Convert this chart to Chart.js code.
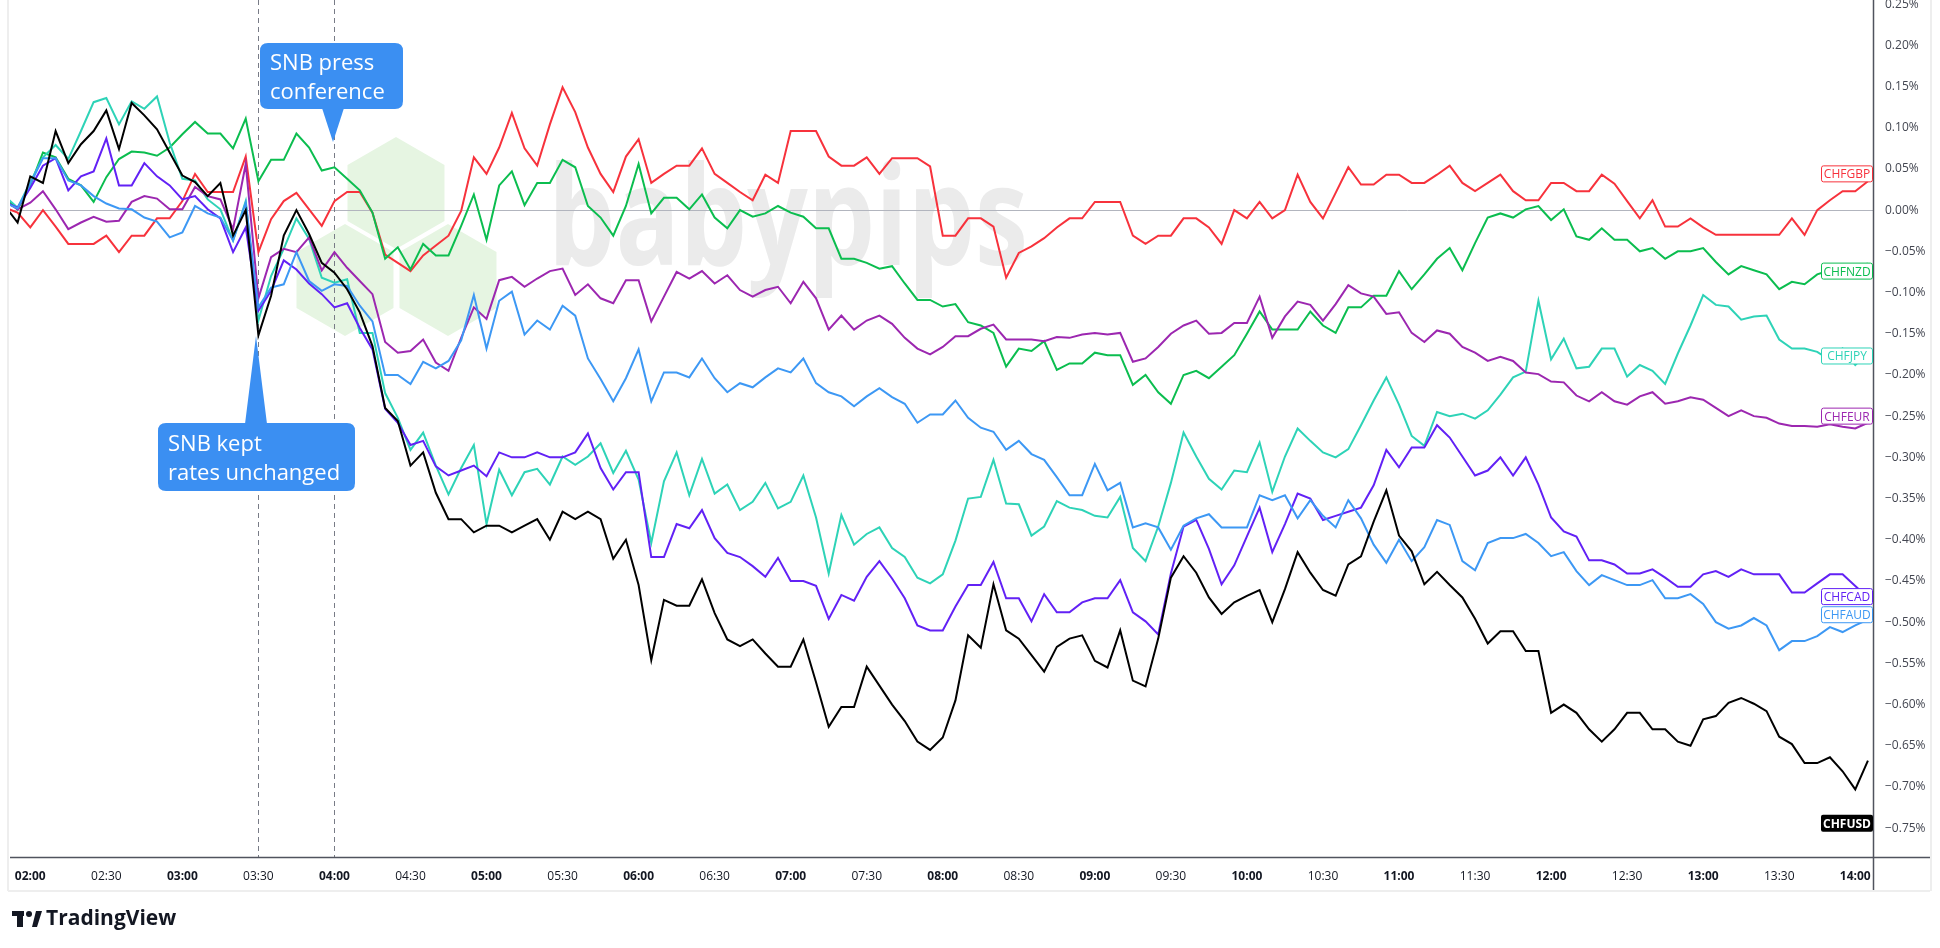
<!DOCTYPE html>
<html><head><meta charset="utf-8">
<script src="https://cdn.jsdelivr.net/npm/chart.js@4.4.0/dist/chart.umd.min.js"></script>
<style>html,body{margin:0;padding:0;background:#fff}#wrap{width:1940px;height:948px;position:relative}</style>
</head><body><div id="wrap"><canvas id="c" width="1940" height="948"></canvas></div>
<script>
// minutes after 02:00, 5-minute steps from 01:50 to 14:05
const times = [];
for (let t = -10; t <= 725; t += 5) times.push(t);
const xTickMinutes = [0,30,60,90,120,150,180,210,240,270,300,330,360,390,420,450,480,510,540,570,600,630,660,690,720];
const yTickValues = [0.25,0.2,0.15,0.1,0.05,0,-0.05,-0.1,-0.15,-0.2,-0.25,-0.3,-0.35,-0.4,-0.45,-0.5,-0.55,-0.6,-0.65,-0.7,-0.75];
const eventMinutes = [90,120];

const CHFUSD = [0.005,-0.015,0.041,0.033,0.096,0.057,0.080,0.096,0.121,0.074,0.130,0.115,0.098,0.070,0.042,0.034,0.017,0.033,-0.031,0.0,-0.152,-0.104,-0.031,0.0,-0.029,-0.064,-0.076,-0.096,-0.124,-0.165,-0.24,-0.256,-0.31,-0.294,-0.343,-0.375,-0.375,-0.391,-0.383,-0.383,-0.391,-0.383,-0.375,-0.40,-0.366,-0.375,-0.366,-0.375,-0.423,-0.40,-0.455,-0.546,-0.473,-0.48,-0.48,-0.448,-0.489,-0.521,-0.529,-0.521,-0.538,-0.554,-0.554,-0.521,-0.573,-0.627,-0.603,-0.603,-0.554,-0.577,-0.6,-0.62,-0.645,-0.655,-0.64,-0.595,-0.516,-0.531,-0.454,-0.51,-0.52,-0.54,-0.56,-0.53,-0.52,-0.516,-0.547,-0.555,-0.51,-0.571,-0.578,-0.52,-0.446,-0.42,-0.44,-0.47,-0.49,-0.476,-0.468,-0.461,-0.50,-0.46,-0.415,-0.44,-0.461,-0.468,-0.43,-0.42,-0.378,-0.34,-0.395,-0.414,-0.454,-0.439,-0.455,-0.47,-0.496,-0.526,-0.511,-0.511,-0.535,-0.535,-0.61,-0.60,-0.61,-0.63,-0.645,-0.63,-0.61,-0.61,-0.63,-0.63,-0.645,-0.65,-0.618,-0.614,-0.598,-0.592,-0.599,-0.608,-0.639,-0.648,-0.671,-0.671,-0.664,-0.681,-0.703,-0.668];
const CHFGBP = [0.003,-0.003,-0.021,0.0,-0.02,-0.041,-0.041,-0.041,-0.031,-0.051,-0.031,-0.031,-0.010,-0.010,0.011,0.044,0.022,0.022,0.022,0.065,-0.051,-0.011,0.011,0.021,0.001,-0.019,0.011,0.022,0.022,-0.003,-0.054,-0.064,-0.074,-0.055,-0.043,-0.031,-0.001,0.064,0.044,0.076,0.118,0.075,0.054,0.104,0.149,0.119,0.076,0.044,0.022,0.065,0.086,0.033,0.044,0.054,0.054,0.075,0.044,0.033,0.022,0.012,0.043,0.033,0.096,0.096,0.096,0.065,0.054,0.054,0.064,0.044,0.063,0.063,0.063,0.053,-0.031,-0.031,-0.01,-0.01,-0.02,-0.082,-0.052,-0.044,-0.034,-0.021,-0.01,-0.01,0.01,0.01,0.01,-0.031,-0.041,-0.031,-0.031,-0.01,-0.01,-0.021,-0.041,0.0,-0.01,0.01,-0.01,0.0,0.043,0.01,-0.01,0.021,0.052,0.031,0.031,0.043,0.043,0.033,0.033,0.043,0.054,0.033,0.023,0.033,0.043,0.023,0.012,0.012,0.033,0.033,0.023,0.023,0.043,0.032,0.011,-0.01,0.012,-0.02,-0.02,-0.01,-0.021,-0.03,-0.03,-0.03,-0.03,-0.03,-0.03,-0.01,-0.03,0.0,0.012,0.023,0.023,0.035];
const CHFNZD = [0.015,0.001,0.03,0.07,0.064,0.038,0.03,0.01,0.04,0.062,0.071,0.070,0.066,0.076,0.092,0.107,0.093,0.093,0.075,0.111,0.035,0.061,0.061,0.093,0.076,0.048,0.052,0.038,0.024,-0.003,-0.059,-0.045,-0.072,-0.041,-0.055,-0.055,-0.019,0.019,-0.036,0.030,0.047,0.006,0.033,0.033,0.061,0.052,0.005,-0.009,-0.031,0.005,0.056,-0.004,0.015,0.015,0.001,0.019,-0.009,-0.022,0.0,-0.008,-0.004,0.005,-0.003,-0.008,-0.022,-0.022,-0.059,-0.059,-0.064,-0.071,-0.068,-0.089,-0.109,-0.109,-0.117,-0.114,-0.136,-0.14,-0.149,-0.19,-0.168,-0.171,-0.159,-0.194,-0.186,-0.186,-0.173,-0.176,-0.176,-0.212,-0.20,-0.221,-0.235,-0.20,-0.195,-0.204,-0.19,-0.176,-0.15,-0.123,-0.145,-0.145,-0.145,-0.123,-0.14,-0.149,-0.118,-0.118,-0.104,-0.104,-0.074,-0.096,-0.078,-0.059,-0.046,-0.073,-0.04,-0.009,-0.004,-0.009,0.001,0.005,-0.012,0.001,-0.032,-0.036,-0.022,-0.036,-0.036,-0.05,-0.046,-0.059,-0.05,-0.05,-0.046,-0.063,-0.078,-0.068,-0.073,-0.078,-0.096,-0.087,-0.09,-0.078,-0.073,-0.073,-0.067,-0.065];
const CHFJPY = [0.017,0.003,0.034,0.064,0.079,0.062,0.096,0.131,0.136,0.104,0.132,0.123,0.138,0.082,0.038,0.036,0.013,0.001,-0.037,0.011,-0.134,-0.080,-0.047,-0.010,-0.035,-0.082,-0.088,-0.084,-0.149,-0.149,-0.222,-0.252,-0.291,-0.27,-0.31,-0.345,-0.313,-0.285,-0.381,-0.315,-0.346,-0.318,-0.314,-0.333,-0.299,-0.309,-0.299,-0.283,-0.319,-0.292,-0.327,-0.404,-0.329,-0.294,-0.346,-0.302,-0.344,-0.333,-0.364,-0.354,-0.331,-0.362,-0.354,-0.322,-0.373,-0.441,-0.37,-0.406,-0.393,-0.385,-0.41,-0.421,-0.446,-0.453,-0.442,-0.401,-0.35,-0.348,-0.303,-0.356,-0.357,-0.395,-0.384,-0.353,-0.361,-0.364,-0.371,-0.373,-0.348,-0.41,-0.426,-0.384,-0.331,-0.27,-0.299,-0.326,-0.339,-0.316,-0.318,-0.282,-0.342,-0.299,-0.265,-0.28,-0.294,-0.30,-0.29,-0.261,-0.231,-0.203,-0.236,-0.274,-0.286,-0.245,-0.25,-0.247,-0.253,-0.243,-0.224,-0.203,-0.196,-0.11,-0.181,-0.156,-0.192,-0.19,-0.168,-0.168,-0.202,-0.188,-0.195,-0.211,-0.174,-0.14,-0.103,-0.115,-0.117,-0.133,-0.129,-0.128,-0.157,-0.168,-0.168,-0.172,-0.182,-0.168,-0.188,-0.173];
const CHFEUR = [0.011,0.001,0.009,0.023,0.001,-0.023,-0.015,-0.008,-0.014,-0.013,0.010,0.017,0.014,0.001,0.001,0.028,0.017,0.013,-0.023,0.056,-0.107,-0.057,-0.047,-0.051,-0.033,-0.073,-0.051,-0.070,-0.086,-0.102,-0.160,-0.173,-0.171,-0.157,-0.185,-0.195,-0.155,-0.118,-0.132,-0.085,-0.081,-0.093,-0.083,-0.074,-0.071,-0.103,-0.090,-0.107,-0.113,-0.085,-0.085,-0.135,-0.105,-0.075,-0.083,-0.074,-0.089,-0.079,-0.097,-0.105,-0.097,-0.093,-0.113,-0.087,-0.107,-0.145,-0.128,-0.145,-0.134,-0.128,-0.138,-0.155,-0.168,-0.175,-0.166,-0.153,-0.153,-0.144,-0.139,-0.157,-0.157,-0.157,-0.159,-0.154,-0.155,-0.151,-0.149,-0.151,-0.149,-0.184,-0.18,-0.166,-0.15,-0.14,-0.134,-0.15,-0.149,-0.137,-0.137,-0.105,-0.155,-0.129,-0.111,-0.115,-0.134,-0.114,-0.091,-0.101,-0.105,-0.126,-0.124,-0.149,-0.16,-0.146,-0.15,-0.166,-0.173,-0.183,-0.178,-0.183,-0.197,-0.199,-0.208,-0.209,-0.225,-0.232,-0.221,-0.232,-0.236,-0.226,-0.221,-0.235,-0.232,-0.227,-0.23,-0.24,-0.25,-0.243,-0.25,-0.252,-0.259,-0.262,-0.262,-0.263,-0.26,-0.263,-0.265,-0.258];
const CHFCAD = [0.009,0.003,0.027,0.054,0.063,0.024,0.041,0.047,0.087,0.030,0.030,0.057,0.041,0.030,0.013,0.017,0.001,-0.010,-0.051,-0.021,-0.122,-0.098,-0.061,-0.072,-0.089,-0.102,-0.118,-0.113,-0.143,-0.169,-0.241,-0.258,-0.285,-0.28,-0.311,-0.322,-0.316,-0.31,-0.323,-0.294,-0.30,-0.30,-0.294,-0.30,-0.30,-0.294,-0.271,-0.313,-0.339,-0.318,-0.318,-0.421,-0.421,-0.381,-0.386,-0.364,-0.398,-0.416,-0.421,-0.432,-0.445,-0.422,-0.45,-0.45,-0.456,-0.496,-0.467,-0.474,-0.445,-0.426,-0.447,-0.471,-0.504,-0.51,-0.51,-0.481,-0.455,-0.455,-0.427,-0.471,-0.471,-0.499,-0.466,-0.488,-0.488,-0.476,-0.471,-0.471,-0.449,-0.488,-0.499,-0.515,-0.441,-0.384,-0.376,-0.411,-0.454,-0.431,-0.396,-0.361,-0.415,-0.381,-0.344,-0.35,-0.376,-0.371,-0.366,-0.361,-0.334,-0.291,-0.312,-0.288,-0.288,-0.261,-0.276,-0.299,-0.322,-0.316,-0.30,-0.322,-0.30,-0.333,-0.373,-0.39,-0.396,-0.425,-0.425,-0.43,-0.441,-0.441,-0.436,-0.446,-0.457,-0.457,-0.442,-0.438,-0.445,-0.436,-0.442,-0.442,-0.442,-0.464,-0.464,-0.453,-0.442,-0.442,-0.456,-0.47];
const CHFAUD = [0.009,0.002,0.032,0.063,0.063,0.036,0.030,0.017,0.008,0.002,0.001,-0.009,-0.014,-0.033,-0.027,0.005,-0.004,-0.009,-0.037,0.009,-0.118,-0.094,-0.090,-0.051,-0.086,-0.098,-0.090,-0.092,-0.116,-0.135,-0.2,-0.2,-0.211,-0.184,-0.192,-0.183,-0.158,-0.103,-0.168,-0.110,-0.099,-0.151,-0.134,-0.145,-0.116,-0.128,-0.180,-0.205,-0.232,-0.204,-0.169,-0.232,-0.197,-0.197,-0.203,-0.180,-0.204,-0.221,-0.210,-0.215,-0.203,-0.192,-0.197,-0.180,-0.210,-0.221,-0.226,-0.238,-0.226,-0.216,-0.227,-0.235,-0.258,-0.248,-0.248,-0.231,-0.252,-0.264,-0.269,-0.291,-0.28,-0.296,-0.303,-0.324,-0.346,-0.346,-0.308,-0.34,-0.331,-0.385,-0.38,-0.385,-0.412,-0.383,-0.374,-0.369,-0.385,-0.385,-0.385,-0.346,-0.352,-0.346,-0.374,-0.352,-0.371,-0.385,-0.352,-0.374,-0.406,-0.428,-0.4,-0.426,-0.409,-0.376,-0.382,-0.426,-0.437,-0.404,-0.398,-0.398,-0.393,-0.404,-0.42,-0.415,-0.438,-0.455,-0.443,-0.449,-0.455,-0.455,-0.449,-0.471,-0.471,-0.466,-0.478,-0.5,-0.508,-0.504,-0.495,-0.504,-0.534,-0.523,-0.523,-0.517,-0.506,-0.512,-0.504,-0.497];

const seriesNames = ['CHFGBP','CHFNZD','CHFJPY','CHFEUR','CHFCAD','CHFAUD','CHFUSD'];
const seriesValues = [CHFGBP,CHFNZD,CHFJPY,CHFEUR,CHFCAD,CHFAUD,CHFUSD];
const seriesColors = ['#f7323c','#0bbd4f','#2ed3b7','#9c27b0','#6221f5','#3d98f4','#000000'];
const labelValues = [0.044,-0.074,-0.177,-0.25,-0.469,-0.491,-0.744];

function fmtTime(m){const h=2+Math.floor(m/60),mm=m%60;return String(h).padStart(2,'0')+':'+String(mm).padStart(2,'0');}
function fmtPct(v){const s=Math.abs(v).toFixed(2)+'%';return (v<-1e-9?'\u2212':'')+s;}

function hex(ctx,cx,cy,r){ctx.beginPath();for(let i=0;i<6;i++){const a=Math.PI/180*(60*i-90);const x=cx+r*Math.cos(a),y=cy+r*Math.sin(a);i?ctx.lineTo(x,y):ctx.moveTo(x,y);}ctx.closePath();ctx.fill();}
function rr(ctx,x,y,w,h,r){ctx.beginPath();ctx.moveTo(x+r,y);ctx.lineTo(x+w-r,y);ctx.quadraticCurveTo(x+w,y,x+w,y+r);ctx.lineTo(x+w,y+h-r);ctx.quadraticCurveTo(x+w,y+h,x+w-r,y+h);ctx.lineTo(x+r,y+h);ctx.quadraticCurveTo(x,y+h,x,y+h-r);ctx.lineTo(x,y+r);ctx.quadraticCurveTo(x,y,x+r,y);ctx.closePath();}

const backPlugin = {
  id:'back',
  beforeDatasetsDraw(chart){
    const {ctx,chartArea:a,scales:{x,y}} = chart;
    ctx.save();
    ctx.fillStyle='#e6f5e2';
    hex(ctx,396,193,56); hex(ctx,345,280,56); hex(ctx,448,280,56);
    ctx.fillStyle='#ebebeb';
    ctx.font='bold 138px "Open Sans", sans-serif';
    ctx.textBaseline='alphabetic';
    ctx.fillText('babypips',548,265,480);
    ctx.strokeStyle='#b2b5be';ctx.lineWidth=1;
    const y0=Math.round(y.getPixelForValue(0))+0.5;
    ctx.beginPath();ctx.moveTo(a.left,y0);ctx.lineTo(a.right,y0);ctx.stroke();
    ctx.strokeStyle='#787b86';ctx.setLineDash([5,4]);
    eventMinutes.forEach(m=>{const px=Math.round(x.getPixelForValue(m))+0.5;ctx.beginPath();ctx.moveTo(px,a.top);ctx.lineTo(px,a.bottom);ctx.stroke();});
    ctx.restore();
  },
  afterDraw(chart){
    const {ctx,chartArea:a,scales:{x,y}} = chart;
    ctx.save();
    ctx.strokeStyle='#50535e';ctx.lineWidth=1.5;
    ctx.beginPath();ctx.moveTo(a.left,a.bottom+0.5);ctx.lineTo(1931,a.bottom+0.5);ctx.stroke();
    ctx.beginPath();ctx.moveTo(a.right+0.5,0);ctx.lineTo(a.right+0.5,a.bottom+34);ctx.stroke();
    ctx.strokeStyle='#eeeeee';ctx.lineWidth=2;
    ctx.beginPath();ctx.moveTo(8,891);ctx.lineTo(1930,891);ctx.stroke();
    ctx.beginPath();ctx.moveTo(1931,0);ctx.lineTo(1931,891);ctx.stroke();
    ctx.beginPath();ctx.moveTo(8,0);ctx.lineTo(8,891);ctx.stroke();
    ctx.textBaseline='middle';ctx.textAlign='center';
    seriesNames.forEach((n,i)=>{
      const cy=y.getPixelForValue(labelValues[i]);const w=52,h=17,x0=a.right-w;
      if(n==='CHFUSD'){ctx.fillStyle='#000';rr(ctx,x0,cy-h/2,w,h,2);ctx.fill();ctx.fillStyle='#fff';ctx.font='bold 12px "Open Sans", sans-serif';}
      else{ctx.fillStyle='#fff';rr(ctx,x0+0.5,cy-h/2+0.5,w-1,h-1,2);ctx.fill();ctx.strokeStyle=seriesColors[i];ctx.lineWidth=1;ctx.stroke();ctx.fillStyle=seriesColors[i];ctx.font='12px "Open Sans", sans-serif';}
      ctx.fillText(n,x0+w/2,cy+1);
    });
    const blue='#3b8ff2';
    ctx.fillStyle=blue;
    rr(ctx,260,43,143,66,8);ctx.fill();
    ctx.beginPath();ctx.moveTo(322,108);ctx.lineTo(344,108);ctx.lineTo(333,142);ctx.closePath();ctx.fill();
    rr(ctx,158,423,197,68,8);ctx.fill();
    ctx.beginPath();ctx.moveTo(245,424);ctx.lineTo(267,424);ctx.lineTo(256,336);ctx.closePath();ctx.fill();
    ctx.fillStyle='#fff';ctx.font='22px "Open Sans", sans-serif';ctx.textAlign='left';ctx.textBaseline='alphabetic';
    ctx.fillText('SNB press',270,70,125);ctx.fillText('conference',270,99,125);
    ctx.fillText('SNB kept',168,451,178);ctx.fillText('rates unchanged',168,480,178);
    ctx.fillStyle='#131722';
    ctx.fillRect(12,911,12,5);ctx.fillRect(17,911,6,16);
    ctx.beginPath();ctx.arc(29,914,3,0,Math.PI*2);ctx.fill();
    ctx.beginPath();ctx.moveTo(32,927);ctx.lineTo(36,911);ctx.lineTo(42,911);ctx.lineTo(37,927);ctx.closePath();ctx.fill();
    ctx.font='bold 21px "Open Sans", sans-serif';ctx.textBaseline='middle';
    ctx.fillText('TradingView',46,919);
    ctx.restore();
  }
};

const datasets = seriesNames.map((n,i)=>({
  label:n,
  data:times.map((t,j)=>({x:t,y:seriesValues[i][j]})),
  borderColor:seriesColors[i],borderWidth:2,pointRadius:0,tension:0,fill:false
})).reverse();

new Chart(document.getElementById('c'),{
  type:'line',
  data:{datasets},
  plugins:[backPlugin],
  options:{
    responsive:false,animation:false,
    layout:{padding:{left:10,top:0,right:0,bottom:0}},
    plugins:{legend:{display:false},tooltip:{enabled:false}},
    scales:{
      x:{type:'linear',min:-8,max:727,
        afterBuildTicks(ax){ax.ticks=xTickMinutes.map(v=>({value:v}));},
        afterFit(ax){ax.height=91;ax.paddingLeft=0;ax.paddingRight=0;},
        grid:{display:false,drawTicks:false},border:{display:false},
        ticks:{padding:12,maxRotation:0,autoSkip:false,color:'#131722',
          font:c=>({family:'"Open Sans", sans-serif',size:12,weight:(c.tick&&c.tick.value%60===0)?'bold':'normal'}),
          callback:v=>fmtTime(v)}
      },
      y:{position:'right',min:-0.785,max:0.255,
        afterBuildTicks(ax){ax.ticks=yTickValues.map(v=>({value:v}));},
        afterFit(ax){ax.width=67;ax.paddingTop=0;ax.paddingBottom=0;},
        grid:{display:false,drawTicks:false},border:{display:false},
        ticks:{padding:12,color:'#434651',font:{family:'"Open Sans", sans-serif',size:12},callback:v=>fmtPct(v)}
      }
    }
  }
});
</script></body></html>
